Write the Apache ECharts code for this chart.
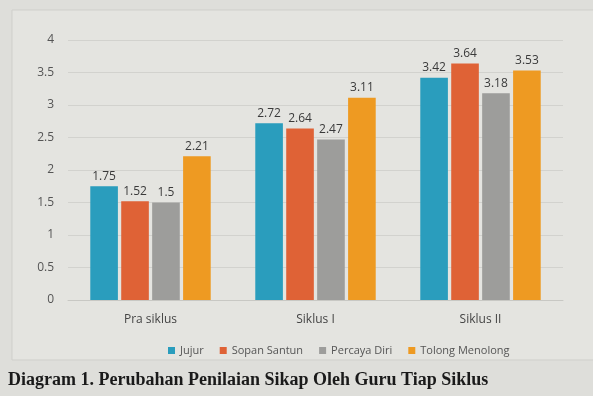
<!DOCTYPE html>
<html>
<head>
<meta charset="utf-8">
<script src="https://cdn.jsdelivr.net/npm/echarts@6/dist/echarts.min.js"></script>
<style>
  html, body { margin: 0; padding: 0; background: #d9d9d5; }
  #chart { width: 593px; height: 396px; }
</style>
</head>
<body>
<div id="chart"></div>
<script>
const categories = ["Pra siklus", "Siklus I", "Siklus II"];
const jujur = [1.75, 2.72, 3.42];
const sopanSantun = [1.52, 2.64, 3.64];
const percayaDiri = [1.5, 2.47, 3.18];
const tolongMenolong = [2.21, 3.11, 3.53];
const yTicks = [0, 0.5, 1, 1.5, 2, 2.5, 3, 3.5, 4];

const colors = ["#2a9dbd", "#df6236", "#9d9d9b", "#ee9a22"];

const chart = echarts.init(document.getElementById("chart"));

const makeSeries = (name, data, color) => ({
  name,
  type: "bar",
  data,
  barGap: "12%",
  barCategoryGap: "27%",
  itemStyle: { color },
  label: {
    show: true,
    position: "top",
    distance: 4,
    color: "#3a3a3a",
    fontSize: 12,
    fontFamily: "Open Sans"
  }
});

chart.setOption({
  backgroundColor: "#dededa",
  animation: false,
  graphic: [
    {
      type: "rect",
      shape: { x: 12, y: 10, width: 600, height: 350 },
      style: { fill: "#e4e4e0", stroke: "#cfcfcb", lineWidth: 1 },
      z: -10
    },
    {
      type: "text",
      left: 8,
      top: 371,
      style: {
        text: "Diagram 1. Perubahan Penilaian Sikap Oleh Guru Tiap Siklus",
        font: "bold 18px 'Liberation Serif'",
        fill: "#1a1a1a"
      }
    }
  ],
  grid: { left: 68, right: 30, top: 40, bottom: 96 },
  legend: {
    left: 163,
    top: 340,
    itemWidth: 7,
    itemHeight: 7,
    itemGap: 16,
    icon: "rect",
    textStyle: { color: "#555", fontSize: 11, fontFamily: "Open Sans" },
    data: ["Jujur", "Sopan Santun", "Percaya Diri", "Tolong Menolong"]
  },
  xAxis: {
    type: "category",
    data: categories,
    axisTick: { show: false },
    axisLine: { lineStyle: { color: "#c8c8c4" } },
    axisLabel: { color: "#444", fontSize: 12, margin: 14, fontFamily: "Open Sans" }
  },
  yAxis: {
    type: "value",
    min: yTicks[0],
    max: yTicks[yTicks.length - 1],
    interval: 0.5,
    axisLine: { show: false },
    axisTick: { show: false },
    axisLabel: { color: "#555", fontSize: 12, margin: 14, fontFamily: "Open Sans" },
    splitLine: { lineStyle: { color: "#d2d2ce" } }
  },
  series: [
    makeSeries("Jujur", jujur, colors[0]),
    makeSeries("Sopan Santun", sopanSantun, colors[1]),
    makeSeries("Percaya Diri", percayaDiri, colors[2]),
    makeSeries("Tolong Menolong", tolongMenolong, colors[3])
  ]
});
</script>
</body>
</html>
